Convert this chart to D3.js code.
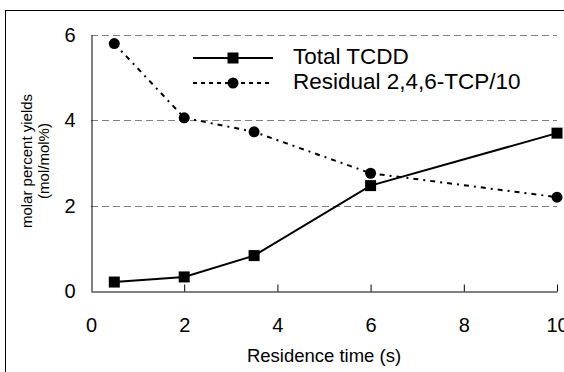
<!DOCTYPE html>
<html>
<head>
<meta charset="utf-8">
<script src="https://cdn.jsdelivr.net/npm/d3@7"></script>
<style>
  body { margin: 0; background: #fff; }
  svg { display: block; font-family: "Liberation Sans", Arial, sans-serif; }
</style>
</head>
<body>
<svg id="chart" width="564" height="372"></svg>
<script>
// residence time (s)
var times = [0.5, 2, 3.5, 6, 10];
// molar percent yields
var totalTCDD = [0.21, 0.33, 0.83, 2.47, 3.7];
var residualTCP = [5.8, 4.06, 3.73, 2.76, 2.2];
var xTicks = [0, 2, 4, 6, 8, 10];
var yTicks = [0, 2, 4, 6];
var seriesNames = ["Total TCDD", "Residual 2,4,6-TCP/10"];

var svg = d3.select("#chart");
var fontFam = "Liberation Sans, Arial, sans-serif";

// outer frame (cut off on the right / bottom like the original)
svg.append("rect")
    .attr("x", 5.5).attr("y", 10.5)
    .attr("width", 600).attr("height", 400)
    .attr("fill", "none").attr("stroke", "#000").attr("stroke-width", 1);

var x = d3.scaleLinear().domain([0, 10]).range([91, 557]);
var y = d3.scaleLinear().domain([0, 6]).range([291, 35]);

// dashed gridlines
svg.append("g")
    .selectAll("line")
    .data(yTicks.filter(function (d) { return d > 0; }))
    .enter().append("line")
    .attr("x1", x(0)).attr("x2", x(10))
    .attr("y1", function (d) { return Math.round(y(d)) + 0.5; })
    .attr("y2", function (d) { return Math.round(y(d)) + 0.5; })
    .attr("stroke", "#808080")
    .attr("stroke-dasharray", "7,4");

// x axis, ticks pointing inward
var xAxis = svg.append("g")
    .attr("transform", "translate(0," + (Math.round(y(0)) + 0.5) + ")")
    .call(d3.axisBottom(x).tickValues(xTicks).tickSizeInner(-7).tickSizeOuter(0).tickPadding(26));
xAxis.select(".domain").attr("stroke", "#000");
xAxis.selectAll(".tick line").attr("stroke", "#000");
xAxis.selectAll(".tick").filter(function (d) { return d === 0; }).select("line").remove();
xAxis.selectAll("text").attr("font-size", 20).attr("font-family", fontFam).attr("fill", "#000");

// y axis
var yAxis = svg.append("g")
    .attr("transform", "translate(" + (Math.round(x(0)) + 0.5) + ",0)")
    .call(d3.axisLeft(y).tickValues(yTicks).tickFormat(d3.format("d")).tickSize(0).tickPadding(16));
yAxis.select(".domain").attr("stroke", "#000");
yAxis.selectAll("text").attr("font-size", 20).attr("font-family", fontFam).attr("fill", "#000");

// axis titles
svg.append("text")
    .attr("x", 324).attr("y", 362)
    .attr("text-anchor", "middle")
    .attr("font-size", 18.5)
    .text("Residence time (s)");

var yTitle = svg.append("text")
    .attr("transform", "translate(32,161) rotate(-90)")
    .attr("text-anchor", "middle")
    .attr("font-size", 15);
yTitle.append("tspan").attr("x", 0).attr("dy", 0).text("molar percent yields");
yTitle.append("tspan").attr("x", 0).attr("dy", 17).text("(mol/mol%)");

var line = d3.line()
    .x(function (d, i) { return x(times[i]); })
    .y(function (d) { return y(d); });

// residual TCP: dash-dot line with circles
svg.append("path")
    .datum(residualTCP)
    .attr("d", line)
    .attr("fill", "none")
    .attr("stroke", "#000")
    .attr("stroke-width", 2)
    .attr("stroke-dasharray", "5,5,2,5");

svg.append("g").selectAll("circle")
    .data(residualTCP)
    .enter().append("circle")
    .attr("cx", function (d, i) { return x(times[i]); })
    .attr("cy", function (d) { return y(d); })
    .attr("r", 5.5)
    .attr("fill", "#000");

// total TCDD: solid line with squares
svg.append("path")
    .datum(totalTCDD)
    .attr("d", line)
    .attr("fill", "none")
    .attr("stroke", "#000")
    .attr("stroke-width", 2);

svg.append("g").selectAll("rect")
    .data(totalTCDD)
    .enter().append("rect")
    .attr("x", function (d, i) { return x(times[i]) - 5.5; })
    .attr("y", function (d) { return y(d) - 5.5; })
    .attr("width", 11).attr("height", 11)
    .attr("fill", "#000");

// legend
var legend = svg.append("g").attr("transform", "translate(193,58)");
var rows = legend.selectAll("g")
    .data(seriesNames)
    .enter().append("g")
    .attr("transform", function (d, i) { return "translate(0," + (i * 25) + ")"; });

rows.append("line")
    .attr("x1", 0).attr("x2", 80)
    .attr("stroke", "#000")
    .attr("stroke-width", 2)
    .attr("stroke-dasharray", function (d, i) { return i === 0 ? null : "4,4"; });

rows.filter(function (d, i) { return i === 0; })
    .append("rect")
    .attr("x", 34.5).attr("y", -5.5).attr("width", 11).attr("height", 11)
    .attr("fill", "#000");

rows.filter(function (d, i) { return i === 1; })
    .append("circle")
    .attr("cx", 40).attr("cy", 0).attr("r", 5.5)
    .attr("fill", "#000");

rows.append("text")
    .attr("x", 100).attr("y", 6)
    .attr("font-size", 22.5)
    .text(function (d) { return d; });
</script>
</body>
</html>
